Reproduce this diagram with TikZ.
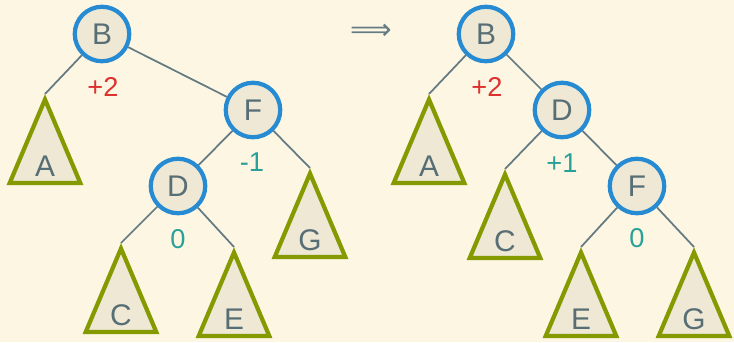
\documentclass[tikz,border=0pt]{standalone}
\usepackage{fontspec}
\setmainfont{Liberation Sans}
\newfontfamily\arrowfont{DejaVu Sans}
\usepackage{tikz}
\usetikzlibrary{positioning, calc}

\definecolor{solbg}{HTML}{FDF6E3}
\definecolor{solfill}{HTML}{EEE8D5}
\definecolor{soltext}{HTML}{586E75}
\definecolor{soledge}{HTML}{657B83}
\definecolor{solblue}{HTML}{268BD2}
\definecolor{solgreen}{HTML}{859900}
\definecolor{solred}{HTML}{DC322F}
\definecolor{solcyan}{HTML}{2AA198}

\tikzset{
  key/.style    = {circle, draw=solblue, fill=solfill,
                   line width=2.4pt, minimum size=1.09cm, inner sep=0pt,
                   text=soltext, font=\fontsize{17}{19}\selectfont},
  sub/.style    = {draw=solgreen, fill=solfill,
                   line width=2.4pt, line join=miter},
  sublbl/.style = {inner sep=0pt, text=soltext,
                   font=\fontsize{17}{19}\selectfont},
  edge/.style   = {draw=soledge, line width=1pt},
  bal/.style    = {inner sep=0pt, font=\fontsize{15.5}{18}\selectfont},
}

% subtree: name, tip of the triangle, label
\newcommand{\subtree}[3]{%
  \coordinate (#1) at #2;
  \draw[sub] ($(#1)+(0,5.5)$) -- ++(-35.3,83.5) -- ++(70.6,0) -- cycle;
  \node[sublbl] (#1-lbl) at ($(#1)+(0,72)$) {#3};
}

\begin{document}
\begin{tikzpicture}[x=0.02cm, y=-0.02cm]

\path[use as bounding box, fill=solbg] (0,0) rectangle (734,342);

% ═══════════════════════════════════════════════════════════
%  BEFORE  –  B is right-heavy, F is left-heavy
% ═══════════════════════════════════════════════════════════
\node[key] (lB) at (102, 34)  {B};
\node[key] (lF) at (253, 110) {F};
\node[key] (lD) at (178, 186) {D};

\subtree{lA}{(45, 94)}{A}
\subtree{lG}{(310, 168)}{G}
\subtree{lC}{(121, 243)}{C}
\subtree{lE}{(234, 247)}{E}

\draw[edge] (lB) -- (lA);
\draw[edge] (lB) -- (lF);
\draw[edge] (lF) -- (lD);
\draw[edge] (lF) -- (lG);
\draw[edge] (lD) -- (lC);
\draw[edge] (lD) -- (lE);

\node[bal, text=solred]  (lB-bal) at (103, 87)  {+2};
\node[bal, text=solcyan] (lF-bal) at (252, 162) {-1};
\node[bal, text=solcyan] (lD-bal) at (178, 239) {0};

% ── step ────────────────────────────────────────────────────
\node[text=soledge, font=\arrowfont\fontsize{16.5}{18}\selectfont] (step)
  at (371, 32) {⟹};

% ═══════════════════════════════════════════════════════════
%  AFTER  –  right rotation at F
% ═══════════════════════════════════════════════════════════
\node[key] (rB) at (486, 34)  {B};
\node[key] (rD) at (562, 110) {D};
\node[key] (rF) at (637, 186) {F};

\subtree{rA}{(429, 94)}{A}
\subtree{rC}{(505, 169)}{C}
\subtree{rE}{(581, 247)}{E}
\subtree{rG}{(694, 247)}{G}

\draw[edge] (rB) -- (rA);
\draw[edge] (rB) -- (rD);
\draw[edge] (rD) -- (rC);
\draw[edge] (rD) -- (rF);
\draw[edge] (rF) -- (rE);
\draw[edge] (rF) -- (rG);

\node[bal, text=solred]  (rB-bal) at (487, 87)  {+2};
\node[bal, text=solcyan] (rD-bal) at (562, 163) {+1};
\node[bal, text=solcyan] (rF-bal) at (637, 238) {0};

\end{tikzpicture}
\end{document}
